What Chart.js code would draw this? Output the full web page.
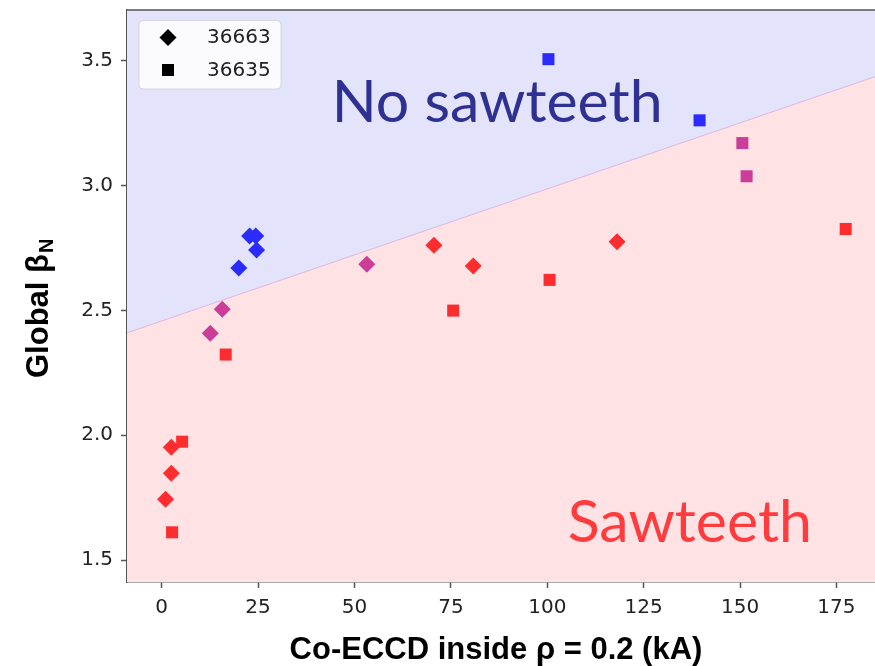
<!DOCTYPE html>
<html>
<head>
<title>Sawteeth vs Co-ECCD</title>
<script src="https://cdn.jsdelivr.net/npm/chart.js"></script>
<style>body{margin:0;background:#fff}</style>
</head>
<body>
<canvas id="sawChart" width="875" height="666"></canvas>
<script>
// shot 36663 (diamonds)
const x36663 = [1.0, 2.5, 2.5, 12.6, 15.7, 20.0, 22.8, 24.4, 24.6, 53.2, 70.6, 80.8, 118.1];
const beta36663 = [1.743, 1.848, 1.952, 2.408, 2.504, 2.670, 2.798, 2.798, 2.742, 2.685, 2.761, 2.678, 2.775];
const regime36663 = ['saw', 'saw', 'saw', 'mixed', 'mixed', 'none', 'none', 'none', 'none', 'mixed', 'saw', 'saw', 'saw'];
// shot 36635 (squares)
const x36635 = [2.7, 5.3, 16.6, 75.6, 100.6, 177.4, 150.6, 151.7, 100.3, 139.5];
const beta36635 = [1.611, 1.974, 2.323, 2.499, 2.622, 2.826, 3.170, 3.037, 3.506, 3.261];
const regime36635 = ['saw', 'saw', 'saw', 'saw', 'saw', 'saw', 'mixed', 'mixed', 'none', 'none'];
// line between the two regimes
const boundaryX = [-9, 185];
const boundaryBeta = [2.41, 3.436];
const shotLabels = ['36663', '36635'];
const regionLabels = ['No sawteeth', 'Sawteeth'];

const regimeColor = { none: '#2b2bfb', mixed: '#cc3d99', saw: '#fd2c2e' };
const pts = (xs, ys) => xs.map((x, i) => ({ x: x, y: ys[i] }));
const boundary = pts(boundaryX, boundaryBeta);

const tickFont = { family: 'DejaVu Sans', size: 20 };
const spine = '#555';

// drop the extra room Chart.js keeps for edge tick labels
function fixBox(size, key) {
    return s => {
        s[key] = size;
        s.paddingTop = s.paddingBottom = s.paddingLeft = s.paddingRight = 0;
    };
}

const decorations = {
    id: 'decorations',
    afterDatasetsDraw(chart) {
        const ctx = chart.ctx;
        const xs = chart.scales.x, ys = chart.scales.y;
        ctx.save();
        ctx.font = '59px Lato';
        ctx.textBaseline = 'alphabetic';
        ctx.fillStyle = '#2e3192';
        ctx.fillText(regionLabels[0], xs.getPixelForValue(44.1), ys.getPixelForValue(3.254));
        ctx.fillStyle = '#ff3b3e';
        ctx.fillText(regionLabels[1], xs.getPixelForValue(105.3), ys.getPixelForValue(1.574));
        ctx.restore();
    },
    afterDraw(chart) {
        const ctx = chart.ctx;
        const a = chart.chartArea;
        ctx.save();
        // top spine
        ctx.strokeStyle = spine;
        ctx.lineWidth = 1.5;
        ctx.beginPath();
        ctx.moveTo(a.left, a.top);
        ctx.lineTo(a.right, a.top);
        ctx.stroke();

        // legend box
        const lx = a.left + 12, ly = a.top + 10.5;
        ctx.beginPath();
        ctx.roundRect(lx, ly, 142, 68.5, 4);
        ctx.fillStyle = 'rgba(255,255,255,0.85)';
        ctx.fill();
        ctx.strokeStyle = '#d6d6e0';
        ctx.lineWidth = 1;
        ctx.stroke();
        ctx.fillStyle = '#000';
        Chart.helpers.drawPoint(ctx, { pointStyle: 'rectRot', radius: 8.5, borderWidth: 0 }, lx + 29, ly + 17);
        Chart.helpers.drawPoint(ctx, { pointStyle: 'rect', radius: 8.5, borderWidth: 0 }, lx + 29, ly + 49.5);
        ctx.font = '20px "DejaVu Sans"';
        ctx.fillStyle = '#222';
        ctx.textBaseline = 'middle';
        ctx.fillText(shotLabels[0], lx + 68, ly + 17.5);
        ctx.fillText(shotLabels[1], lx + 68, ly + 50);

        // axis titles
        ctx.fillStyle = '#000';
        ctx.textBaseline = 'alphabetic';
        ctx.font = 'bold 31px "Liberation Sans"';
        ctx.textAlign = 'center';
        ctx.fillText('Co-ECCD inside \u03c1 = 0.2 (kA)', (a.left + a.right) / 2 - 5, a.bottom + 77);

        ctx.translate(48, 378);
        ctx.rotate(-Math.PI / 2);
        ctx.textAlign = 'left';
        const main = 'Global \u03b2';
        ctx.fillText(main, 0, 0);
        const w = ctx.measureText(main).width;
        ctx.font = 'bold 20px "Liberation Sans"';
        ctx.fillText('N', w + 1, 5);
        ctx.restore();
    }
};

const ctx = document.getElementById('sawChart').getContext('2d');
new Chart(ctx, {
    type: 'scatter',
    data: {
        datasets: [{
            label: shotLabels[0],
            data: pts(x36663, beta36663),
            pointStyle: 'rectRot',
            pointRadius: 8.5,
            pointBorderWidth: 0,
            backgroundColor: regime36663.map(r => regimeColor[r]),
            order: 1
        }, {
            label: shotLabels[1],
            data: pts(x36635, beta36635),
            pointStyle: 'rect',
            pointRadius: 8.5,
            pointBorderWidth: 0,
            backgroundColor: regime36635.map(r => regimeColor[r]),
            order: 2
        }, {
            type: 'line',
            data: boundary,
            fill: 'start',
            backgroundColor: '#fee2e4',
            borderColor: 'rgba(215,170,220,0.8)',
            borderWidth: 1,
            pointRadius: 0,
            order: 5
        }, {
            type: 'line',
            data: boundary,
            fill: 'end',
            backgroundColor: '#e3e3fc',
            borderWidth: 0,
            pointRadius: 0,
            order: 6
        }]
    },
    options: {
        responsive: false,
        animation: false,
        layout: { autoPadding: false, padding: { top: 10, right: 0, left: 0, bottom: 0 } },
        plugins: { legend: { display: false }, tooltip: { enabled: false } },
        scales: {
            x: {
                type: 'linear',
                min: -9,
                max: 185,
                afterFit: fixBox(84, 'height'),
                ticks: { stepSize: 25, includeBounds: false, font: tickFont, color: '#222', padding: 8, maxRotation: 0 },
                grid: { drawOnChartArea: false, tickLength: 6, tickColor: spine, tickWidth: 1.5 },
                border: { color: spine, width: 1.5 }
            },
            y: {
                min: 1.412,
                max: 3.703,
                afterFit: fixBox(127, 'width'),
                ticks: { stepSize: 0.5, includeBounds: false, font: tickFont, color: '#222', padding: 8,
                    callback: v => v.toFixed(1) },
                grid: { drawOnChartArea: false, tickLength: 6, tickColor: spine, tickWidth: 1.5 },
                border: { color: spine, width: 1.5 }
            }
        }
    },
    plugins: [decorations]
});
</script>
</body>
</html>
